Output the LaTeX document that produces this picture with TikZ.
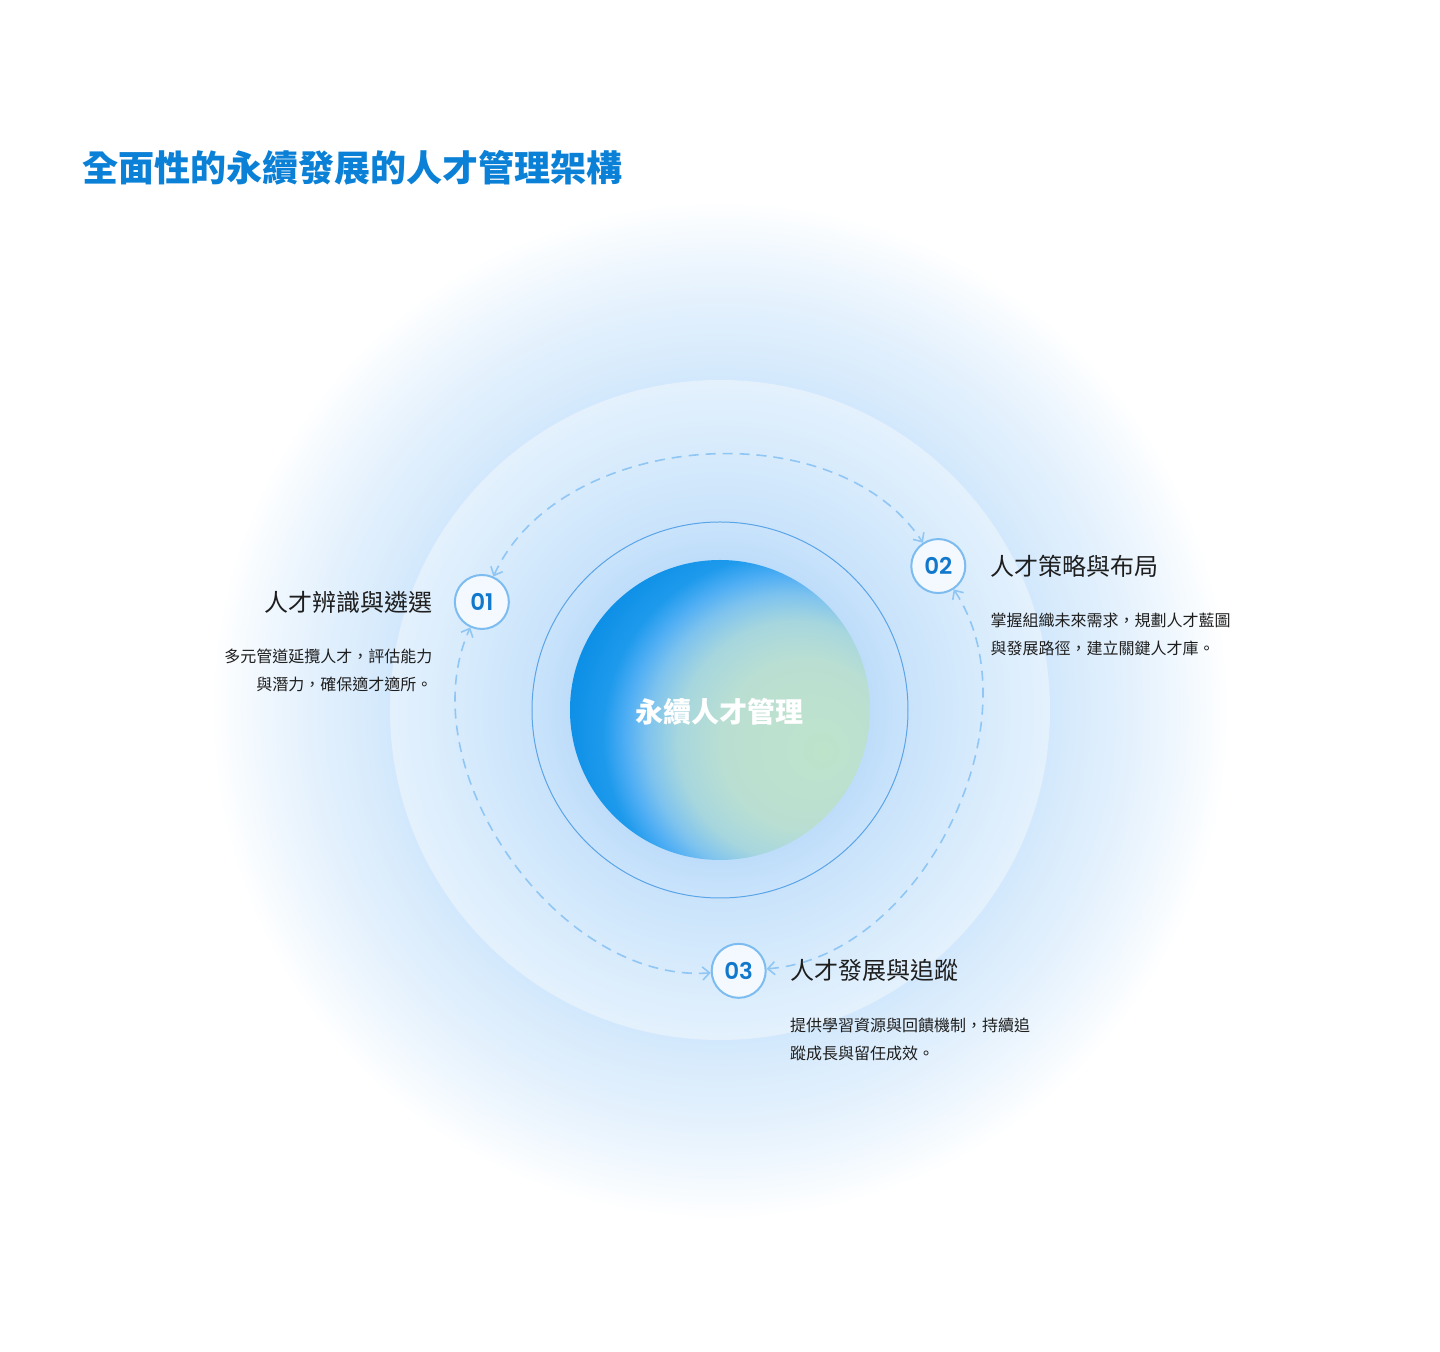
\documentclass[tikz,border=0pt]{standalone}
\usepackage{fontspec}
\setmainfont{Noto Sans CJK TC}
\newfontfamily\numfont{Poppins SemiBold}
\usetikzlibrary{arrows.meta}
\usetikzlibrary{positioning}

\definecolor{titleblue}{HTML}{0A80D6}
\definecolor{ringblue}{HTML}{5AA4E8}
\definecolor{dashblue}{HTML}{90C6F4}
\definecolor{badgeline}{HTML}{7CBCF1}
\definecolor{badgefill}{HTML}{F3F9FE}
\definecolor{badgetext}{HTML}{1278CC}
\definecolor{inktext}{HTML}{1E1E1E}
\definecolor{hazeA}{HTML}{CDE5FC}
\definecolor{hazeB}{HTML}{D2E8FC}
\definecolor{hazeC}{HTML}{D8EBFC}
\definecolor{hazeD}{HTML}{E6F2FD}
\definecolor{hazeE}{HTML}{F3F9FE}
\definecolor{haloA}{HTML}{BEDDFA}
\definecolor{haloB}{HTML}{C9E3FB}
\definecolor{haloC}{HTML}{D7EBFC}
\definecolor{haloD}{HTML}{E4F1FD}
\definecolor{orbA}{HTML}{BEE3CB}
\definecolor{orbB}{HTML}{BADFD2}
\definecolor{orbC}{HTML}{A6D6DE}
\definecolor{orbD}{HTML}{7EC3EE}
\definecolor{orbE}{HTML}{4FAEF4}
\definecolor{orbF}{HTML}{1E9AEC}
\definecolor{orbG}{HTML}{0C8FE6}

\pgfdeclareradialshading{haze}{\pgfpoint{0bp}{0bp}}{color(0bp)=(hazeA); color(15.9bp)=(hazeB); color(17bp)=(hazeC); color(20.2bp)=(hazeD); color(22.6bp)=(hazeE); color(24.5bp)=(white); color(50bp)=(white)}
\pgfdeclareradialshading{halo}{\pgfpoint{0bp}{0bp}}{color(0bp)=(haloA); color(11.4bp)=(haloA); color(14.2bp)=(haloB); color(19.8bp)=(haloC); color(25bp)=(haloD); color(50bp)=(haloD)}
\pgfdeclareradialshading{orb}{\pgfpoint{17.5bp}{-7bp}}{color(0bp)=(orbA); color(14bp)=(orbB); color(20bp)=(orbC); color(24bp)=(orbD); color(27bp)=(orbE); color(30bp)=(orbF); color(35bp)=(orbG); color(75bp)=(orbG)}

\begin{document}
\begin{tikzpicture}[x=0.5pt,y=0.5pt,
  stage/.style={circle,draw=badgeline,line width=1pt,fill=badgefill,minimum size=27pt,inner sep=0pt,text=badgetext,font=\numfont\fontsize{11.5}{11.5}\selectfont},
  stagehead/.style={inner sep=0pt,text=inktext,font=\fontsize{12}{12}\selectfont},
  stagenote/.style={inner sep=0pt,text=inktext,font=\fontsize{8}{14}\selectfont},
  cyclearc/.style={dashblue,line width=0.8pt,dash pattern=on 5pt off 3.5pt,<->,>={Straight Barb[length=3.5pt,width=6.5pt]}}]
\fill[white] (-720,-642) rectangle (720,710);
\useasboundingbox (-720,-642) rectangle (720,710);
\coordinate (hub) at (0,0);
% glow and rings
\shade[shading=haze] (hub) circle[radius=520];
\shade[shading=halo] (hub) circle[radius=330];
\draw[ringblue,line width=0.5pt] (hub) circle[radius=188];
\shade[shading=orb] (hub) circle[radius=150];
\node[text=white,font=\bfseries\fontsize{14}{14}\selectfont] (core) at (0,-2) {永續人才管理};
\node[anchor=west,inner sep=0pt,text=titleblue,font=\bfseries\fontsize{18}{18}\selectfont] (title) at (-638,542) {全面性的永續發展的人才管理架構};
% stages
\node[stage] (n1) at (155.6:261.5) {01};
\node[stage] (n2) at (33.4:261.5) {02};
\node[stage] (n3) at (-85.9:261.5) {03};
\draw[cyclearc] (n1) to[bend left=61.1,looseness=0.95] (n2);
\draw[cyclearc] (n2) to[bend left=59.65,looseness=0.94] (n3);
\draw[cyclearc] (n3) to[bend left=59.25,looseness=0.93] (n1);
\node[stagehead,left=10.5pt of n1] (h1) {人才辨識與遴選};
\node[stagenote,align=right,below left=17.5pt and 0pt of h1.south east] (d1) {多元管道延攬人才，評估能力\\與潛力，確保適才適所。};
\node[stagehead,right=12pt of n2] (h2) {人才策略與布局};
\node[stagenote,align=left,below right=17.5pt and 0pt of h2.south west] (d2) {掌握組織未來需求，規劃人才藍圖\\與發展路徑，建立關鍵人才庫。};
\node[stagehead,right=11.5pt of n3] (h3) {人才發展與追蹤};
\node[stagenote,align=left,below right=17.5pt and 0pt of h3.south west] (d3) {提供學習資源與回饋機制，持續追\\蹤成長與留任成效。};
\end{tikzpicture}
\end{document}
